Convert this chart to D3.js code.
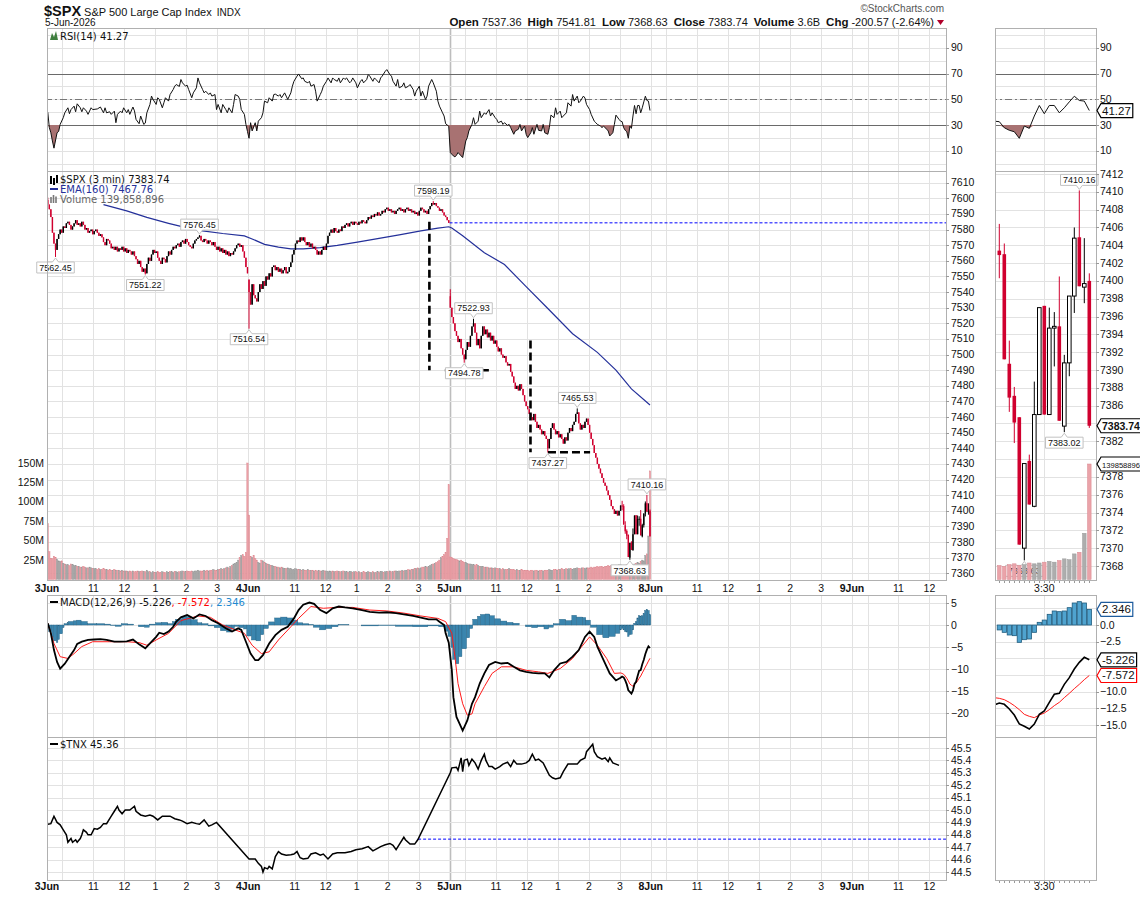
<!DOCTYPE html>
<html>
<head>
<meta charset="utf-8">
<script src="https://cdn.jsdelivr.net/npm/d3@7"></script>
<style>
  body { margin: 0; background: #fff; }
  text { font-family: "Liberation Sans", Arial, sans-serif; fill: #111; }
  .leg { font-family: "DejaVu Sans", Verdana, sans-serif; font-size: 10px; }
</style>
</head>
<body>
<svg id="chart" width="1140" height="897"></svg>
<script>
// ---------------- data (3-minute bars, 130 per session) ----------------
const dayLabels = ['3Jun', '4Jun', '5Jun', '8Jun', '9Jun'];
const hourLabels = ['11', '12', '1', '2', '3'];
const hourBars = [30, 50, 70, 90, 110];
const rightTickLabel = '3:30';

const quoteFields = [['Open', '7537.36'], ['High', '7541.81'], ['Low', '7368.63'], ['Close', '7383.74'], ['Volume', '3.6B'], ['Chg', '-200.57 (-2.64%)']];

const closesJun3 = [
  7596,7593,7588,7578,7571,7567,7574,7577,7580,7578,
  7582,7581,7584,7585,7583,7580,7582,7584,7586,7583,
  7584,7582,7585,7583,7580,7581,7578,7579,7580,7577,
  7579,7580,7578,7576,7577,7575,7572,7570,7574,7573,
  7571,7568,7569,7567,7569,7566,7568,7567,7569,7566,
  7568,7565,7567,7566,7564,7566,7563,7561,7558,7560,
  7556,7553,7555,7552,7558,7562,7560,7564,7567,7565,
  7566,7562,7560,7558,7562,7561,7559,7563,7566,7564,
  7567,7569,7568,7570,7571,7569,7572,7573,7571,7574,
  7572,7570,7569,7568,7571,7573,7574,7575,7576,7573,
  7572,7574,7573,7571,7573,7572,7570,7572,7569,7567,
  7569,7566,7568,7565,7567,7564,7566,7563,7565,7564,
  7566,7568,7570,7571,7569,7570,7566,7562,7556,7552
];
const closesJun4 = [
  7540,7532,7545,7538,7536,7534,7540,7545,7542,7547,
  7544,7550,7548,7552,7550,7556,7557,7554,7556,7553,
  7555,7552,7554,7556,7552,7553,7556,7559,7564,7567,
  7571,7573,7572,7575,7573,7575,7572,7570,7572,7569,
  7571,7568,7569,7567,7564,7566,7564,7567,7569,7567,
  7571,7576,7578,7580,7578,7581,7579,7578,7580,7579,
  7582,7581,7583,7584,7582,7584,7585,7583,7585,7584,
  7583,7585,7584,7586,7585,7584,7586,7588,7587,7589,
  7588,7590,7589,7591,7589,7590,7592,7591,7593,7594,
  7592,7593,7591,7592,7590,7592,7593,7594,7592,7593,
  7591,7593,7594,7592,7593,7591,7592,7590,7591,7589,
  7592,7594,7593,7591,7592,7590,7593,7595,7597,7596,
  7597,7595,7594,7592,7593,7591,7589,7588,7586,7584.31
];
const closesJun5 = [
  7530,7524,7520,7515,7512,7508,7510,7504,7500,7497,
  7503,7508,7505,7512,7518,7520,7514,7506,7510,7504,
  7512,7518,7513,7516,7511,7514,7509,7512,7507,7509,
  7505,7502,7504,7500,7498,7499,7495,7493,7494,7489,
  7486,7482,7478,7480,7477,7481,7478,7474,7470,7467,
  7465,7462,7460,7458,7462,7457,7453,7455,7452,7449,
  7451,7448,7446,7440,7446,7453,7456,7452,7449,7451,
  7447,7449,7446,7443,7447,7445,7450,7453,7451,7455,
  7457,7462,7463,7456,7452,7455,7453,7457,7459,7455,
  7450,7446,7442,7437,7434,7430,7427,7424,7421,7418,
  7416,7413,7410,7407,7403,7401,7398,7400,7397,7400,
  7403.4
];
// last 19 bars (15:03-15:57) as open, high, low, close
const tailBars = [
  [7403.4,7406.4,7400.3,7402.9], [7403.0,7404.2,7391.2,7391.2], [7390.7,7393.3,7385.3,7386.9],
  [7387.1,7388.1,7381.8,7384.1], [7384.7,7384.7,7370.4,7370.4], [7370.0,7379.5,7368.63,7379.5],
  [7379.8,7380.5,7374.9,7374.9], [7374.7,7388.7,7374.6,7385.0], [7385.0,7397.0,7385.0,7397.0],
  [7397.2,7397.2,7385.0,7385.0], [7385.0,7397.0,7385.0,7394.7], [7394.7,7396.5,7390.4,7394.9],
  [7394.9,7400.5,7384.3,7384.3], [7383.7,7391.7,7383.02,7390.8], [7390.8,7398.3,7389.3,7398.3],
  [7398.3,7406.0,7396.4,7404.8], [7404.9,7410.16,7399.4,7399.4], [7399.3,7404.8,7397.5,7399.7],
  [7400.0,7400.85,7383.5,7383.74]
];
const sessionOpens = [[0, 7599], [130, 7548], [260, 7537.36]];
const barExtremes = [[0, 7600.5, null], [5, null, 7562.45], [63, null, 7551.22], [98, 7576.45, null],
  [130, null, 7516.54], [249, 7598.19, null], [260, 7541.81, null], [269, null, 7494.78],
  [275, 7522.93, null], [323, null, 7437.27], [342, 7465.53, null]];

// volume in millions
const volJun3 = [
  72,36,27,27,30,28,26,24,23,24, 21,20,19,19,18,20,19,18,18,17, 17,16,16,17,16,15,15,16,15,14,
  14,14,13,14,13,13,14,13,13,12, 13,12,12,13,12,12,12,11,12,11, 11,11,10,11,10,11,10,10,11,10,
  10,11,10,10,12,10,10,9,10,9, 9,10,9,9,10,9,9,10,9,10, 10,9,10,10,9,10,10,11,10,10,
  11,10,10,11,10,11,11,12,11,11, 11,12,11,12,11,12,12,13,12,12, 13,13,14,13,14,15,16,15,17,18,
  20,21,22,25,28,31,32,30,35,150
];
const volJun4 = [
  83,30,28,31,27,25,22,21,25,24, 22,21,20,19,18,18,17,17,16,16, 15,16,15,14,14,15,14,14,13,13,
  14,13,13,13,12,13,12,12,13,12, 12,12,11,12,11,12,11,11,12,11, 11,10,11,10,11,10,10,11,10,10,
  10,11,10,10,9,10,10,9,10,10, 9,10,9,9,10,9,9,10,9,9, 10,9,9,10,9,10,10,9,10,10,
  10,11,10,10,11,11,10,11,11,12, 11,12,12,13,12,13,13,14,14,15, 14,15,16,16,17,16,17,18,19,20,
  21,22,23,25,28,30,32,35,53,122
];
const volJun5 = [
  29,28,27,26,26,25,24,25,23,22, 22,21,20,20,19,19,18,19,18,17, 17,17,16,16,16,15,15,15,14,15,
  14,14,14,13,14,13,13,13,14,13, 13,13,12,13,12,12,13,12,12,12, 12,11,12,12,11,12,12,11,12,12,
  11,12,12,12,13,12,12,13,13,12, 13,13,14,13,13,14,13,14,14,13, 14,14,15,14,14,15,15,14,15,15,
  15,16,15,16,16,17,16,17,17,16, 17,17,18,17,18,18,17,18,18,19, 19,17,16,18,19,17,18,20,19,20,
  21,22,21,23,25,24,31,33,56,139.86
];

const emaPts = [[36,7596],[51,7592],[64,7587.8],[78,7584],[86,7582],[100,7579.2],[113,7577.5],[127,7576],
  [132,7574],[140,7570.5],[149,7568.8],[157,7567.7],[165,7567.6],[176,7568.4],[187,7569.9],[200,7572],
  [214,7574.4],[227,7576.6],[241,7579.2],[252,7580.9],[259,7581.8],[261,7581],[268,7576],[282,7565.2],
  [295,7557.6],[309,7543.5],[323,7529.5],[339,7513.3],[355,7501.4],[367,7490],[377,7478],[389,7467.76]];

const rsiPts = [[0,40],[1,28],[2,24],[3,17.6],[4,12],[6,24],[7,25],[8,30.5],[10,35.7],[11,39.5],[13,43.4],[14,38.8],
  [15,42],[17,44.7],[18,40.3],[19,46.5],[21,43.4],[22,40.3],[23,43.4],[25,40.8],[26,38.3],[28,43.4],[29,42],[32,42.5],
  [34,44],[36,39.5],[37,43.4],[38,39.5],[40,40.3],[41,38.3],[43,40.8],[44,31.8],[45,38.3],[47,40.8],[48,39.5],[49,43.4],
  [51,39.5],[52,42],[53,38.3],[55,44],[56,41],[57,34.4],[59,31],[60,37],[62,30.5],[63,31.5],[64,39.5],[66,46],[67,52.5],
  [68,49.9],[70,46],[71,51.2],[72,50],[74,43.4],[75,47.3],[76,51.2],[78,48.6],[79,53.7],[81,57.6],[82,60.2],[83,61.5],
  [85,60],[86,65.4],[87,62.8],[89,60.2],[90,61],[91,57.6],[93,51.2],[94,55],[96,58.9],[97,66.6],[98,62.8],[100,57.6],
  [101,55],[102,56.3],[104,53.7],[105,55],[106,52.5],[108,53.7],[109,42],[110,46],[112,39.5],[113,46],[115,42],[116,39.5],
  [117,43.4],[119,39.5],[120,46],[121,53.7],[123,52.5],[124,49.9],[125,42],[127,38.3],[128,30.5],[129,25],
  [130,19.7],[131,31.8],[132,25.4],[134,31.8],[135,25.4],[136,33],[138,35.7],[139,39.5],[140,48.6],[142,47.3],[143,51.2],
  [145,48.6],[146,53.7],[147,54],[149,52.5],[150,53.7],[151,51.2],[153,55],[154,52.5],[155,49.9],[157,55],[158,60.2],
  [159,64],[161,68],[162,69.7],[164,66],[165,66.6],[166,64],[168,62.8],[169,64],[170,60.2],[172,61.5],[173,56.3],[174,48.6],
  [176,53.7],[177,56.3],[178,60.2],[180,64],[181,66.6],[183,62.8],[184,66.6],[185,65.4],[187,64],[188,66.6],[189,62.8],
  [191,66.6],[192,65.4],[193,66.6],[195,62.8],[196,64],[197,66.6],[199,62.8],[200,58.9],[202,64],[203,65.4],[204,62.8],
  [206,65.4],[207,69.2],[208,68],[210,64],[211,66.6],[212,65.4],[214,62.8],[215,66.6],[216,68],[218,71.8],[219,73.1],
  [221,69.2],[222,68],[223,64],[225,60.2],[226,65.4],[227,58.9],[229,60.2],[230,62.8],[231,58.9],[233,60.2],[234,61.5],
  [236,57.6],[237,52.5],[238,56.3],[240,60.2],[241,52.5],[242,56.3],[244,49.9],[245,52.5],[246,60.2],[248,65.4],[249,62.8],
  [251,56.3],[252,48.6],[253,44.7],[255,39.5],[256,37],[257,31],[259,29],
  [260,8.6],[261,7.3],[262,6],[263,5.2],[264,6.5],[265,8.6],[267,6],[268,4.7],[270,17.6],[271,20.2],[272,25.4],[274,30.5],
  [275,35.7],[276,30.5],[278,33],[279,40.8],[280,35.7],[282,39.5],[283,38.3],[285,42],[286,37],[287,39.5],[289,35.7],
  [290,34.4],[291,31.8],[293,33],[294,30.5],[295,31.8],[297,29.7],[298,30.5],[299,28],[301,22.8],[302,25.4],[304,26.7],
  [305,30.5],[306,25.4],[308,29.2],[309,22.8],[310,20.2],[312,24],[313,28],[314,22.8],[316,30.5],[317,25.9],[319,25.4],
  [320,30.5],[321,24],[323,22.8],[324,28],[325,37.7],[327,35.7],[328,43.4],[329,38.3],[331,40.8],[332,35.7],[333,37],
  [335,39.5],[336,47.3],[338,44.7],[339,53.7],[340,48.6],[342,52.5],[343,47.3],[344,48.6],[346,52.5],[347,51],[348,46],
  [350,42],[351,38.3],[353,33],[354,31.8],[355,30.5],[357,29.2],[358,28],[359,29.2],[361,26.7],[362,25.4],[363,21.5],
  [365,24],[366,30.5],[367,37.7],[369,34.4],[370,33],[371,32.6],[372,27.9],[373,25.9],[374,24.8],[375,19.7],[376,29.2],
  [377,27.4],[378,37],[379,45.2],[380,38.8],[381,45.2],[382,45.2],[383,39.5],[384,43.4],[385,48],[386,52.4],[387,49.1],
  [388,48.6],[389,41.27]];

const macdPts = [[0,0.4],[2,-1.9],[4,-5.7],[6,-8.4],[8,-9.9],[11,-8.8],[14,-7.2],[17,-5.7],[19,-4.3],[22,-3.8],[26,-3.4],
  [30,-3.3],[34,-3.2],[38,-3.4],[43,-3.8],[47,-3.8],[51,-3.7],[55,-3.3],[59,-4.4],[63,-5.3],[66,-4.2],[70,-2.7],[72,-1.75],
  [75,-2.05],[78,-1.5],[81,-0.4],[83,0.76],[86,1.75],[90,2.3],[94,1.5],[98,2.4],[102,2.05],[106,1.1],[110,0.4],[115,-0.76],
  [119,-1.5],[123,-0.76],[125,-1.1],[128,-3.8],[131,-6.5],[134,-8.0],[136,-8],[139,-6.85],[143,-4.2],[147,-2.3],[151,-1.1],
  [155,-0.4],[159,1.5],[162,3.4],[165,4.6],[169,5.1],[172,4.8],[176,3.4],[180,2.7],[184,3.8],[188,4.2],[192,4.0],[197,3.8],
  [203,3.4],[208,3.0],[214,2.8],[219,2.9],[225,2.7],[230,2.4],[236,2.05],[241,1.7],[246,1.3],[251,1.3],[253,0.76],[256,0],
  [257,-1.9],[259,-4],[261,-10.3],[262,-16.4],[264,-20.9],[267,-23.2],[268,-24],[271,-21.7],[274,-17.9],[276,-16.4],
  [279,-13.3],[282,-11],[285,-9.1],[289,-8.4],[293,-8.75],[297,-8.6],[301,-9.5],[305,-10.3],[309,-10.65],[313,-10.9],
  [317,-11],[321,-11],[324,-11.9],[327,-10.3],[331,-8.75],[335,-8.4],[339,-7.2],[343,-5.7],[347,-2.7],[350,-1.5],
  [353,-2.7],[355,-4.9],[359,-8.0],[363,-11],[367,-12.6],[370,-12],[371,-11.7],[372,-11.9],[373,-12.6],[374,-13.5],
  [375,-14.85],[376,-15.2],[377,-15.6],[378,-14.85],[379,-13.4],[380,-12.9],[381,-11.6],[382,-10.4],[383,-10.25],
  [384,-8.9],[385,-7.9],[386,-6.6],[387,-5.6],[388,-4.85],[389,-5.226]];

const signalPts = [[0,0.4],[4,-4.2],[8,-7.2],[13,-7.6],[17,-6.5],[22,-4.9],[29,-3.8],[40,-3.8],[51,-3.8],[59,-4],[64,-4.6],
  [70,-3.4],[78,-1.9],[86,1.0],[97,2.05],[105,1.75],[113,0],[121,-1.1],[127,-1.9],[132,-4.6],[138,-6.5],[143,-6.1],
  [149,-3.4],[157,-0.4],[162,1.5],[170,4.2],[178,3.8],[187,4.0],[197,4.0],[208,3.4],[219,3.2],[230,2.7],[241,2.05],
  [252,1.5],[257,0.76],[261,-1.9],[263,-7.2],[265,-13.3],[268,-17.9],[271,-20.5],[274,-20.2],[276,-17.9],[282,-14],
  [287,-11],[293,-9.5],[301,-9.5],[309,-10.3],[317,-10.65],[323,-11],[331,-9.9],[339,-7.6],[344,-5.3],[350,-2.7],
  [355,-4.6],[361,-7.6],[366,-11],[370,-10.9],[371,-11.0],[372,-11.2],[373,-11.6],[374,-12.1],[375,-12.7],[376,-13.4],
  [377,-13.7],[378,-13.9],[379,-13.5],[380,-13.2],[381,-12.7],[382,-12.1],[383,-11.6],[384,-10.9],[385,-10.25],
  [386,-9.55],[387,-8.9],[388,-8.2],[389,-7.572]];

const histPts = [[0,-0.2],[1,-1.5],[3,-2.8],[4,-3.6],[6,-4.0],[7,-3.3],[8,-2.0],[10,-0.6],[11,0.3],[13,0.6],[14,0.8],
  [17,0.95],[19,1.1],[22,0.8],[26,0.3],[32,0.3],[37,0.2],[41,-0.1],[44,-0.3],[48,0.3],[52,0.2],[56,0.0],[59,-0.4],[63,-0.5],
  [66,0.2],[70,0.5],[74,0.6],[78,0.3],[81,0.8],[83,1.3],[87,2.0],[90,1.9],[93,1.2],[97,0.5],[100,0.3],[104,-0.2],[108,-0.6],
  [112,-1.3],[116,-1.6],[119,-0.9],[121,-0.3],[124,-0.6],[127,-0.9],[129,-2.5],[132,-3.4],[135,-3.6],[138,-2.2],[140,-0.8],
  [143,0.7],[147,1.6],[151,1.8],[155,1.6],[159,1.1],[162,0.5],[165,0.3],[169,0.1],[172,-0.5],[176,-1.1],[180,-0.8],
  [184,-0.4],[188,0.1],[195,0.0],[203,-0.2],[214,-0.1],[225,-0.3],[236,-0.4],[246,-0.2],[253,-0.4],[257,-1.4],[259,-2.6],
  [261,-5.1],[262,-7.8],[264,-8.8],[266,-7.2],[268,-5.4],[271,-2.9],[273,-0.8],[275,1.3],[278,2.0],[280,2.4],[283,2.5],
  [286,2.1],[289,1.4],[293,0.9],[297,0.6],[301,0.4],[305,0.0],[309,-0.4],[313,-0.6],[317,-0.4],[321,-0.9],[324,-0.5],
  [327,0.3],[331,1.3],[335,1.0],[339,2.2],[342,1.8],[346,1.7],[348,1.1],[351,-0.5],[355,-2.2],[359,-2.9],[363,-2.6],
  [367,-1.9],[370,-1.1],[371,-0.74],[372,-1.1],[373,-1.5],[374,-1.6],[375,-2.6],[376,-2.2],[377,-2.1],[378,-1.1],
  [379,0.4],[380,0.74],[381,1.6],[382,2.1],[383,2.0],[384,2.1],[385,2.6],[386,3.3],[387,3.5],[388,3.3],[389,2.346]];

const tnxPts = [[0,44.885],[2,44.89],[4,44.95],[6,44.9],[8,44.88],[10,44.84],[12,44.8],[13,44.74],[15,44.77],[16,44.74],
  [18,44.76],[19,44.74],[21,44.77],[22,44.8],[23,44.84],[25,44.82],[26,44.8],[28,44.8],[30,44.85],[32,44.845],[34,44.86],
  [36,44.89],[38,44.89],[41,44.95],[43,44.99],[45,45.03],[46,45.0],[48,44.97],[50,45.0],[53,45.0],[56,45.03],[57,44.99],
  [60,44.96],[63,44.95],[66,44.96],[68,44.95],[71,44.92],[74,44.95],[77,44.95],[79,44.95],[82,44.93],[85,44.92],[87,44.91],
  [90,44.89],[93,44.9],[96,44.89],[98,44.885],[101,44.92],[104,44.87],[106,44.88],[109,44.9],
  [130,44.605],[134,44.605],[136,44.57],[138,44.545],[139,44.5],[140,44.535],[142,44.525],[143,44.545],[145,44.525],
  [147,44.625],[149,44.665],[151,44.645],[154,44.635],[157,44.64],[159,44.645],[161,44.665],[163,44.615],[165,44.605],
  [168,44.61],[170,44.645],[173,44.655],[176,44.635],[178,44.645],[181,44.605],[184,44.645],[187,44.655],[192,44.655],
  [196,44.665],[199,44.68],[203,44.688],[207,44.705],[210,44.67],[213,44.69],[215,44.705],[218,44.72],[221,44.73],
  [223,44.715],[225,44.68],[227,44.72],[230,44.78],[231,44.76],[234,44.725],[237,44.725],[239,44.76],
  [260,45.3],[261,45.34],[264,45.345],[265,45.32],[267,45.42],[268,45.31],[269,45.4],[271,45.41],[272,45.36],[274,45.41],
  [276,45.38],[278,45.33],[280,45.4],[282,45.45],[283,45.4],[285,45.35],[287,45.35],[289,45.33],[292,45.35],[294,45.37],
  [297,45.385],[299,45.35],[301,45.4],[303,45.37],[306,45.37],[309,45.38],[311,45.4],[313,45.45],[315,45.4],[317,45.41],
  [320,45.38],[322,45.33],[324,45.28],[326,45.26],[328,45.25],[331,45.26],[333,45.31],[336,45.37],[339,45.37],[342,45.37],
  [344,45.4],[347,45.42],[348,45.47],[350,45.5],[352,45.53],[353,45.47],[355,45.43],[358,45.41],[360,45.42],[362,45.39],
  [363,45.42],[365,45.38],[367,45.37],[369,45.36]];

const priceTags = [[5,7562.45,'below'],[63,7551.22,'below'],[98,7576.45,'above'],[130,7516.54,'below'],[249,7598.19,'above'],
  [269,7494.78,'below'],[275,7522.93,'above'],[323,7437.27,'below'],[342,7465.53,'above'],[387,7410.16,'above'],[376,7368.63,'below']];
const tailTags = [[387,7410.16,'above'],[384,7383.02,'below'],[376,7368.63,'below']];
// user-drawn dashed annotation segments: [barTime1, price1, barTime2, price2]
const trendLines = [[247,7585,247,7490],[257,7490,286,7490],[312.3,7509,312.3,7437.5],[323.6,7437.5,350.8,7437.5]];
const prevClose = 7584.31, tnxPrevClose = 44.765;
const lastVolumeText = '139858896';

// ---------------- layout ----------------
const svg = d3.select('#chart');
const L = 47, R = 946, RL = 995, RR = 1096;
const P = { rsi: [28, 171], price: [171, 580], macd: [595, 737], tnx: [737, 880] };
const GRID = '#e2e2e2', EDGE = '#b0b0b0', RED = '#d0002f';
const TAIL0 = 371;
const nBars = 580.7;

const x = d3.scaleLinear().domain([0, nBars]).range([L, R]);
const xc = b => x(b + 0.5);
const xr = d3.scaleLinear().domain([0, 18]).range([999.3, 1089.3]);
const xrc = b => xr(b - TAIL0);
const yRsi = d3.scaleLinear().domain([0, 100]).range([163.6, 35]);
const yPx = d3.scaleLinear().domain([7360, 7610]).range([573.3, 182.7]);
const yVol = d3.scaleLinear().domain([0, 150]).range([579.5, 463]);
const yMacd = d3.scaleLinear().domain([-20, 5]).range([713, 603]);
const yTnx = d3.scaleLinear().domain([44.5, 45.5]).range([872, 748]);
const yPxR = d3.scaleLinear().domain([7368, 7412]).range([566, 174]);
const yVolR = d3.scaleLinear().domain([0, 139.86]).range([579.5, 464]);
const yMacdR = d3.scaleLinear().domain([-15, 0]).range([725, 625]);
const crisp = v => Math.round(v) + 0.5;

const allClose = closesJun3.concat(closesJun4, closesJun5, tailBars.map(d => d[3]));
const volume = volJun3.concat(volJun4, volJun5);
const openAt = new Map(sessionOpens);
const extAt = new Map(barExtremes.map(d => [d[0], d]));
const candles = allClose.map((c, b) => {
  if (b >= TAIL0) { const t = tailBars[b - TAIL0]; return { b, o: t[0], h: t[1], l: t[2], c: t[3] }; }
  const o = openAt.has(b) ? openAt.get(b) : allClose[b - 1];
  const e = extAt.get(b) || [];
  return { b, o, c, h: e[1] != null ? e[1] : Math.max(o, c), l: e[2] != null ? e[2] : Math.min(o, c) };
});

const defs = svg.append('defs');
function clip(id, x0, y0, x1, y1) {
  defs.append('clipPath').attr('id', id).append('rect').attr('x', x0).attr('y', y0).attr('width', x1 - x0).attr('height', y1 - y0);
  return `url(#${id})`;
}

const xTicks = [];
dayLabels.forEach((d, i) => [0, 10].concat(hourBars).forEach(o => { if (i * 130 + o < nBars) xTicks.push(i * 130 + o); }));

// ---------------- grids ----------------
const gGrid = svg.append('g');
Object.values(P).forEach(([y0, y1]) => {
  xTicks.forEach(t => gGrid.append('line').attr('x1', crisp(x(t))).attr('x2', crisp(x(t))).attr('y1', y0).attr('y2', y1)
    .attr('stroke', t === 260 ? '#bdbdbd' : GRID).attr('stroke-width', t === 260 ? 1.6 : 1));
  gGrid.append('line').attr('x1', crisp(xr(9))).attr('x2', crisp(xr(9))).attr('y1', y0).attr('y2', y1).attr('stroke', GRID);
});
function hGrid(vals, scale, x0, x1) {
  vals.forEach(v => gGrid.append('line').attr('x1', x0).attr('x2', x1).attr('y1', crisp(scale(v))).attr('y2', crisp(scale(v))).attr('stroke', GRID));
}
hGrid(d3.range(0, 101, 10), yRsi, L, R); hGrid(d3.range(0, 101, 10), yRsi, RL, RR);
hGrid(d3.range(7360, 7611, 10), yPx, L, R); hGrid(d3.range(7368, 7413, 2), yPxR, RL, RR);
hGrid([5, 0, -5, -10, -15, -20], yMacd, L, R); hGrid(d3.range(-15, 3, 2.5), yMacdR, RL, RR);
hGrid(d3.range(0, 11).map(i => 44.5 + i / 10), yTnx, L, R);

// ---------------- RSI panel ----------------
function rsiPanel(g, pts, xf, clipUrl) {
  g.attr('clip-path', clipUrl);
  [70, 30].forEach(v => g.append('line').attr('x1', 0).attr('x2', 1140).attr('y1', crisp(yRsi(v))).attr('y2', crisp(yRsi(v))).attr('stroke', '#6a6a6a'));
  g.append('line').attr('x1', 0).attr('x2', 1140).attr('y1', crisp(yRsi(50))).attr('y2', crisp(yRsi(50)))
    .attr('stroke', '#777').attr('stroke-dasharray', '7,3,2,3');
  g.append('path').datum(pts).attr('fill', '#a87272')
    .attr('d', d3.area().x(d => xf(d[0])).y0(yRsi(30)).y1(d => yRsi(Math.min(d[1], 30))));
  g.append('path').datum(pts).attr('fill', 'none').attr('stroke', '#111').attr('stroke-width', 1)
    .attr('d', d3.line().x(d => xf(d[0])).y(d => yRsi(d[1])));
}
rsiPanel(svg.append('g'), rsiPts, xc, clip('cRsi', L, P.rsi[0], R, P.rsi[1]));
rsiPanel(svg.append('g'), rsiPts.filter(d => d[0] >= 370), xrc, clip('cRsiR', RL, P.rsi[0], RR, P.rsi[1]));

// ---------------- price panel ----------------
const gPx = svg.append('g').attr('clip-path', clip('cPx', L, P.price[0], R, P.price[1]));
gPx.selectAll('.vol').data(candles).enter().append('rect')
  .attr('x', d => xc(d.b) - 0.7).attr('width', 1.4)
  .attr('y', d => yVol(volume[d.b])).attr('height', d => yVol(0) - yVol(volume[d.b]))
  .attr('fill', d => d.c < d.o ? '#eba0a7' : '#a9a9a9')
  .attr('stroke', d => d.c < d.o ? '#dd8890' : '#959595').attr('stroke-width', 0.4);
gPx.append('path').datum(emaPts).attr('fill', 'none').attr('stroke', '#24309a').attr('stroke-width', 1.2)
  .attr('d', d3.line().x(d => xc(d[0])).y(d => yPx(d[1])));
gPx.append('line').attr('x1', x(260)).attr('x2', R).attr('y1', yPx(prevClose)).attr('y2', yPx(prevClose))
  .attr('stroke', '#0000ff').attr('stroke-dasharray', '3,2');
gPx.selectAll('.wick').data(candles).enter().append('line')
  .attr('x1', d => xc(d.b)).attr('x2', d => xc(d.b)).attr('y1', d => yPx(d.h)).attr('y2', d => yPx(d.l))
  .attr('stroke', d => d.c < d.o ? RED : '#000').attr('stroke-width', 1);
gPx.selectAll('.body').data(candles).enter().append('rect')
  .attr('x', d => xc(d.b) - 0.7).attr('width', 1.4)
  .attr('y', d => yPx(Math.max(d.o, d.c))).attr('height', d => Math.max(1, Math.abs(yPx(d.o) - yPx(d.c))))
  .attr('fill', d => d.c < d.o ? RED : '#000');
trendLines.forEach(t => gPx.append('line').attr('x1', x(t[0])).attr('y1', yPx(t[1])).attr('x2', x(t[2])).attr('y2', yPx(t[3]))
  .attr('stroke', '#000').attr('stroke-width', 2.6).attr('stroke-dasharray', '8,4'));

function tag(g, cx, yp, txt, dir) {
  const s = dir === 'above' ? -1 : 1;
  const p = g.append('path').attr('fill', '#fff').attr('stroke', '#c2c2c2');
  const t = g.append('text').attr('x', cx).attr('text-anchor', 'middle').attr('font-size', 9).text(txt);
  const w = t.node().getComputedTextLength() + 5, h = 11;
  const ya = yp + s * 5, yf = ya + s * h;
  t.attr('y', (ya + yf) / 2 + 3.2);
  p.attr('d', `M${cx - w / 2},${ya}H${cx - 3}L${cx},${yp + s}L${cx + 3},${ya}H${cx + w / 2}V${yf}H${cx - w / 2}Z`);
}
const gTags = svg.append('g');
priceTags.forEach(d => tag(gTags, xc(d[0]), yPx(d[1]), d[1].toFixed(2), d[2]));

// right price panel (last hour)
const tail = candles.filter(d => d.b >= TAIL0);
const gPxR = svg.append('g').attr('clip-path', clip('cPxR', RL, P.price[0], RR, P.price[1]));
gPxR.selectAll('.vol').data(tail).enter().append('rect')
  .attr('x', d => xrc(d.b) - 1.8).attr('width', 3.6)
  .attr('y', d => yVolR(volume[d.b])).attr('height', d => yVolR(0) - yVolR(volume[d.b]))
  .attr('fill', d => d.c < d.o ? '#eaa3a9' : '#adadad').attr('stroke', d => d.c < d.o ? '#d98890' : '#999').attr('stroke-width', 0.5);
gPxR.selectAll('.wick').data(tail).enter().append('line')
  .attr('x1', d => xrc(d.b)).attr('x2', d => xrc(d.b)).attr('y1', d => yPxR(d.h)).attr('y2', d => yPxR(d.l))
  .attr('stroke', d => d.c < d.o ? RED : '#000');
gPxR.selectAll('.body').data(tail).enter().append('rect')
  .attr('x', d => xrc(d.b) - 1.8).attr('width', 3.6)
  .attr('y', d => yPxR(Math.max(d.o, d.c))).attr('height', d => Math.max(1, Math.abs(yPxR(d.o) - yPxR(d.c))))
  .attr('fill', d => d.c < d.o ? RED : '#fff').attr('stroke', d => d.c < d.o ? 'none' : '#000');
tailTags.forEach(d => tag(gTags, xrc(d[0]), yPxR(d[1]), d[1].toFixed(2), d[2]));

// ---------------- MACD panel ----------------
const gM = svg.append('g').attr('clip-path', clip('cM', L, P.macd[0], R, P.macd[1]));
histPts.forEach((d, i) => {
  const x0 = xc(d[0]) - 0.75, x1 = i < histPts.length - 1 ? xc(histPts[i + 1][0]) - 0.75 : xc(d[0]) + 0.75;
  gM.append('rect').attr('x', x0).attr('width', x1 - x0)
    .attr('y', Math.min(yMacd(0), yMacd(d[1]))).attr('height', Math.abs(yMacd(d[1]) - yMacd(0)))
    .attr('fill', '#3a85ae').attr('stroke', '#235f80').attr('stroke-width', 0.4);
});
gM.append('path').datum(signalPts).attr('fill', 'none').attr('stroke', '#ff1a1a').attr('stroke-width', 1)
  .attr('d', d3.line().x(d => xc(d[0])).y(d => yMacd(d[1])));
gM.append('path').datum(macdPts).attr('fill', 'none').attr('stroke', '#000').attr('stroke-width', 1.8)
  .attr('d', d3.line().x(d => xc(d[0])).y(d => yMacd(d[1])));

const gMR = svg.append('g').attr('clip-path', clip('cMR', RL, P.macd[0], RR, P.macd[1]));
gMR.selectAll('rect').data(histPts.filter(d => d[0] >= TAIL0)).enter().append('rect')
  .attr('x', d => xrc(d[0]) - 2.1).attr('width', 4.2)
  .attr('y', d => Math.min(yMacdR(0), yMacdR(d[1]))).attr('height', d => Math.abs(yMacdR(d[1]) - yMacdR(0)))
  .attr('fill', '#4fa3cf').attr('stroke', '#1d5b7d').attr('stroke-width', 0.8);
gMR.append('path').datum(signalPts.filter(d => d[0] >= 370)).attr('fill', 'none').attr('stroke', '#ff1a1a')
  .attr('d', d3.line().x(d => xrc(d[0])).y(d => yMacdR(d[1])));
gMR.append('path').datum(macdPts.filter(d => d[0] >= 370)).attr('fill', 'none').attr('stroke', '#000').attr('stroke-width', 1.6)
  .attr('d', d3.line().x(d => xrc(d[0])).y(d => yMacdR(d[1])));

// ---------------- TNX panel ----------------
const gT = svg.append('g').attr('clip-path', clip('cT', L, P.tnx[0], R, P.tnx[1]));
gT.append('line').attr('x1', x(239.7)).attr('x2', R).attr('y1', yTnx(tnxPrevClose)).attr('y2', yTnx(tnxPrevClose))
  .attr('stroke', '#0000ff').attr('stroke-dasharray', '3,2');
gT.append('path').datum(tnxPts).attr('fill', 'none').attr('stroke', '#000').attr('stroke-width', 1.5)
  .attr('d', d3.line().x(d => xc(d[0])).y(d => yTnx(d[1])));

// ---------------- frames ----------------
Object.values(P).forEach(([y0, y1]) => {
  svg.append('rect').attr('x', L + 0.5).attr('y', y0 + 0.5).attr('width', R - L).attr('height', y1 - y0).attr('fill', 'none').attr('stroke', EDGE);
  svg.append('rect').attr('x', RL + 0.5).attr('y', y0 + 0.5).attr('width', RR - RL).attr('height', y1 - y0).attr('fill', 'none').attr('stroke', EDGE);
});
[P.price[1], P.tnx[1]].forEach(yb => tail.forEach(d => svg.append('line').attr('x1', crisp(xrc(d.b))).attr('x2', crisp(xrc(d.b)))
  .attr('y1', yb + 1).attr('y2', yb + 3).attr('stroke', '#999')));

// ---------------- axis labels ----------------
function yLabels(vals, scale, xPos, fmt, tickX) {
  vals.forEach(v => {
    const s = fmt(v);
    svg.append('text').attr('x', xPos + (s[0] === '-' ? -3 : 0)).attr('y', scale(v) + 3.5).attr('font-size', 10.5).text(s);
    if (tickX) svg.append('line').attr('x1', tickX).attr('x2', tickX + 3).attr('y1', crisp(scale(v))).attr('y2', crisp(scale(v))).attr('stroke', '#999');
  });
}
const f0 = d3.format('d'), f1 = d3.format('.1f');
yLabels([90, 70, 50, 30, 10], yRsi, 951, f0, R); yLabels([90, 70, 50, 30, 10], yRsi, 1100, f0, RR);
yLabels(d3.range(7360, 7611, 10), yPx, 951, f0, R);
yLabels(d3.range(7368, 7413, 2).filter(v => v !== 7380 && v !== 7384), yPxR, 1100, f0, RR);
yLabels([5, 0, -5, -10, -15, -20], yMacd, 951, f0, R); yLabels([0, -2.5, -10, -12.5, -15], yMacdR, 1100, f1, RR);
yLabels(d3.range(0, 11).map(i => 44.5 + i / 10), yTnx, 951, f1, R);
[150, 125, 100, 75, 50, 25].forEach(v => svg.append('text').attr('x', 44).attr('y', yVol(v) + 3.5)
  .attr('text-anchor', 'end').attr('font-size', 10.5).text(v + 'M'));

function timeAxis(y) {
  dayLabels.forEach((lab, i) => {
    svg.append('text').attr('x', x(i * 130)).attr('y', y).attr('text-anchor', 'middle').attr('font-size', 10.5).attr('font-weight', 'bold').text(lab);
    hourBars.forEach((o, j) => {
      if (i * 130 + o < nBars) svg.append('text').attr('x', x(i * 130 + o)).attr('y', y).attr('text-anchor', 'middle').attr('font-size', 10.5).text(hourLabels[j]);
    });
  });
  svg.append('text').attr('x', xr(9)).attr('y', y).attr('text-anchor', 'middle').attr('font-size', 10.5).text(rightTickLabel);
}
timeAxis(592); timeAxis(890);

// value boxes on right axis
function valueBox(yv, txt, color, bold, size) {
  const p = svg.append('path').attr('fill', '#fff').attr('stroke', color).attr('stroke-width', 1.2);
  const t = svg.append('text').attr('x', 1102).attr('y', yv + 4).attr('font-size', size || 11.5).attr('font-weight', bold ? 'bold' : 'normal').text(txt);
  const w = t.node().getComputedTextLength();
  p.attr('d', `M1097,${yv}L1101,${yv - 7}H${1104 + w}V${yv + 7}H1101Z`);
}
valueBox(yRsi(rsiPts[rsiPts.length - 1][1]), '41.27', '#000');
valueBox(yPxR(7383.74), '7383.74', '#000', true, 10.5);
valueBox(yVolR(139.86), lastVolumeText, '#000', false, 7.6);
valueBox(yMacdR(2.346), '2.346', '#1d5b9d');
valueBox(yMacdR(-5.226), '-5.226', '#000');
valueBox(yMacdR(-7.572), '-7.572', '#ff0000');

// ---------------- header ----------------
const tSym = svg.append('text').attr('x', 44).attr('y', 16).attr('font-size', 14.5).attr('font-weight', 'bold').text('$SPX');
const symEnd = 44 + tSym.node().getComputedTextLength() + 3;
const tName = svg.append('text').attr('x', symEnd).attr('y', 16).attr('font-size', 11).text('S&P 500 Large Cap Index');
svg.append('text').attr('x', symEnd + tName.node().getComputedTextLength() + 5).attr('y', 16).attr('font-size', 10).text('INDX');
svg.append('text').attr('x', 45).attr('y', 26).attr('font-size', 10).text('5-Jun-2026');
svg.append('text').attr('x', 944).attr('y', 12).attr('text-anchor', 'end').attr('font-size', 10).style('fill', '#555').text('\u00a9StockCharts.com');
const qt = svg.append('text').attr('x', 934).attr('y', 26).attr('text-anchor', 'end').attr('font-size', 11);
quoteFields.forEach(([k, v], i) => {
  qt.append('tspan').attr('font-weight', 'bold').attr('font-size', 11.5).attr('dx', i ? 6 : 0).text(k);
  qt.append('tspan').attr('dx', 3).text(v);
});
svg.append('path').attr('d', 'M937,20H944L940.5,25Z').attr('fill', '#b0002a');

// ---------------- legends ----------------
svg.append('path').attr('d', 'M50,40L52,33L54,37L56,31L58,40Z').attr('fill', '#3f7f3f');
svg.append('text').attr('class', 'leg').attr('x', 60).attr('y', 40).text('RSI(14) 41.27');
svg.append('path').attr('d', 'M51,176V184M54,178V185M57,175V183').attr('stroke', '#000').attr('stroke-width', 2);
svg.append('text').attr('class', 'leg').attr('x', 60).attr('y', 183).text('$SPX (3 min) 7383.74');
svg.append('line').attr('x1', 50).attr('x2', 58).attr('y1', 189).attr('y2', 189).attr('stroke', '#24309a').attr('stroke-width', 2);
svg.append('text').attr('class', 'leg').attr('x', 60).attr('y', 193).style('fill', '#24309a').text('EMA(160) 7467.76');
svg.append('path').attr('d', 'M51,203V197M53.5,203V195M56,203V196.5').attr('stroke', '#777').attr('stroke-width', 1.6);
svg.append('text').attr('class', 'leg').attr('x', 60).attr('y', 203).style('fill', '#666').text('Volume 139,858,896');
svg.append('line').attr('x1', 50).attr('x2', 58).attr('y1', 602).attr('y2', 602).attr('stroke', '#000').attr('stroke-width', 2);
const ml = svg.append('text').attr('class', 'leg').attr('x', 60).attr('y', 606);
ml.append('tspan').text('MACD(12,26,9) -5.226');
ml.append('tspan').style('fill', '#ff0000').text(', -7.572');
ml.append('tspan').style('fill', '#1f8ad0').text(', 2.346');
svg.append('line').attr('x1', 50).attr('x2', 58).attr('y1', 744).attr('y2', 744).attr('stroke', '#000').attr('stroke-width', 2);
svg.append('text').attr('class', 'leg').attr('x', 60).attr('y', 748).text('$TNX 45.36');
</script>
</body>
</html>
